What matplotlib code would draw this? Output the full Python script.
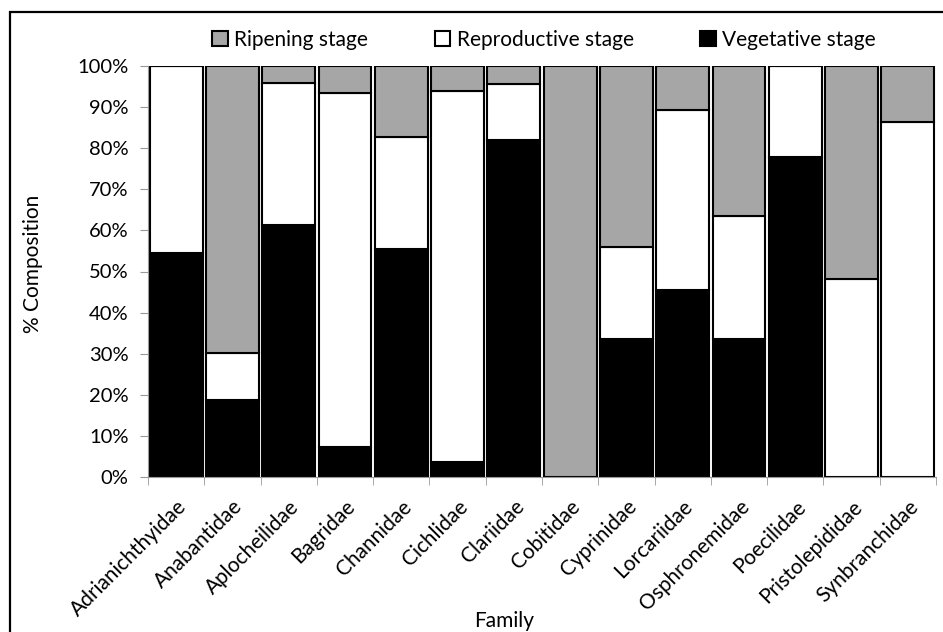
import numpy as np
import matplotlib
matplotlib.use("Agg")
import matplotlib.pyplot as plt
from matplotlib.patches import Rectangle

plt.rcParams["font.family"] = ["Lato", "DejaVu Sans"]

families = [
    "Adrianichthyidae", "Anabantidae", "Aplocheilidae", "Bagridae",
    "Channidae", "Cichlidae", "Clariidae", "Cobitidae", "Cyprinidae",
    "Lorcariidae", "Osphronemidae", "Poecilidae", "Pristolepididae",
    "Synbranchidae",
]

# percentages
vegetative = [54.5, 18.8, 61.4, 7.4, 55.4, 3.6, 82.0, 0.0, 33.6, 45.5, 33.5, 77.9, 0.0, 0.0]
reproductive = [45.5, 11.4, 34.4, 86.0, 27.3, 90.3, 13.6, 0.0, 22.3, 43.8, 30.1, 22.1, 48.1, 86.4]
ripening = [100 - v - r for v, r in zip(vegetative, reproductive)]

x = np.arange(len(families))
bw = 0.94

fig = plt.figure(figsize=(9.43, 6.32), dpi=100)
ax = fig.add_axes([148 / 943, 1 - 477 / 632, (936 - 148) / 943, (477 - 66) / 632])

ax.bar(x, vegetative, bw, color="black", edgecolor="black", linewidth=1.5,
       label="Vegetative stage")
ax.bar(x, reproductive, bw, bottom=vegetative, color="white", edgecolor="black",
       linewidth=1.5, label="Reproductive stage")
bottom2 = [v + r for v, r in zip(vegetative, reproductive)]
ax.bar(x, ripening, bw, bottom=bottom2, color="#a6a6a6", edgecolor="black",
       linewidth=1.5, label="Ripening stage")

ax.set_xlim(-0.5, len(families) - 0.5)
ax.set_ylim(0, 100)
ax.set_yticks(np.arange(0, 101, 10))
ax.set_yticklabels([f"{v}%" for v in range(0, 101, 10)], fontsize=14.5)
ax.set_xticks(np.arange(-0.5, len(families), 1), minor=True)
ax.set_xticks(x)
ax.set_xticklabels(families, rotation=45, ha="right", rotation_mode="anchor",
                   fontsize=15)
ax.tick_params(axis="x", which="major", length=0, pad=14)
ax.tick_params(axis="x", which="minor", length=6, color="#999999")
ax.tick_params(axis="y", length=6, color="#999999", pad=8)

for s in ["top", "right"]:
    ax.spines[s].set_visible(False)
for s in ["left", "bottom"]:
    ax.spines[s].set_color("#999999")

ax.set_ylabel("% Composition", fontsize=15)
ax.yaxis.set_label_coords(-0.133, 0.518)
ax.set_xlabel("Family", fontsize=15)
ax.xaxis.set_label_coords(0.452, -0.327)

handles, labels = ax.get_legend_handles_labels()
fig.legend(handles[::-1], labels[::-1], loc="center", bbox_to_anchor=(0.577, 1 - 40 / 632),
           ncol=3, frameon=False, fontsize=15, handlelength=0.75, handleheight=0.75,
           handletextpad=0.3, columnspacing=3.2)

# outer frame, only left and top edges fall inside the picture
fig.patches.append(Rectangle((10 / 943, -0.1), 1.2, 1.1 - 12 / 632,
                             transform=fig.transFigure, fill=False,
                             edgecolor="black", linewidth=1.6))

fig.savefig("out.png", dpi=100)
